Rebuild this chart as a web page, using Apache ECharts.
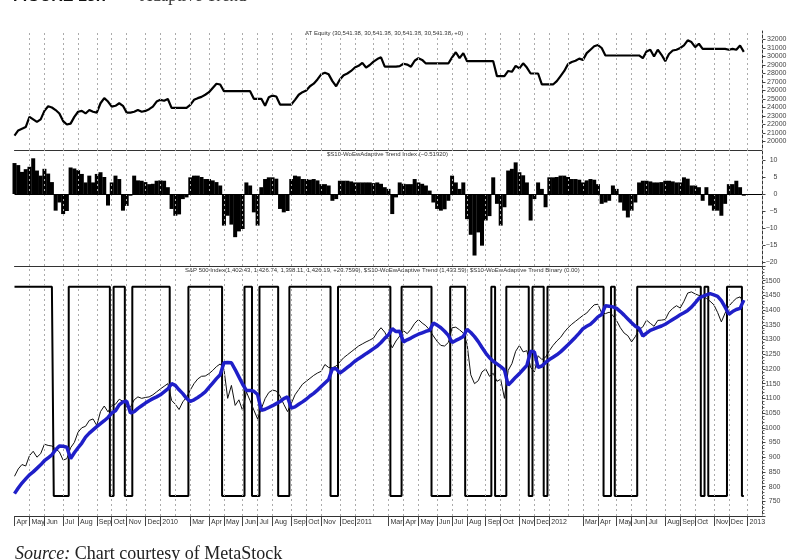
<!DOCTYPE html>
<html><head><meta charset="utf-8">
<script src="https://cdn.jsdelivr.net/npm/echarts@6/dist/echarts.min.js"></script>
<style>html,body{margin:0;padding:0;background:#fff}#chart{width:800px;height:560px}</style>
</head><body><div id="chart"></div>
<script>
// ---------- categories (weekly, Fridays) ----------
const monthAbbr = ['Jan','Feb','Mar','Apr','May','Jun','Jul','Aug','Sep','Oct','Nov','Dec'];
const firstWeek = Date.UTC(2009, 3, 3);
const weekCount = 201;
const DAY = 86400000;
const weeks = [];
for (let i = 0; i < weekCount; i++) weeks.push(new Date(firstWeek + i * 7 * DAY).toISOString().slice(0, 10));

// ---------- series values ----------
const equity = [
20700,21300,21500,21700,22900,22600,22300,22600,23600,24150,
24000,23700,23300,22400,22000,22100,22900,23500,23600,23300,
23700,23500,23400,24500,25100,24700,24100,24200,24500,24200,
23400,23400,23500,23700,23500,23600,23800,24100,24700,24900,
24800,25000,23950,23950,23950,23950,23950,24300,24900,25100,
25250,25500,25800,26300,26800,26700,25920,25920,25920,25920,
25920,25920,25920,25920,25020,25020,25020,24200,25200,25400,
25300,24350,24350,24350,24350,24900,25500,25800,26000,26500,
26800,27300,27900,28100,27900,27100,26500,27300,27800,28000,
28300,28700,28900,29250,28700,29000,29400,29700,29900,28800,
28800,28800,28800,28860,29150,29050,28800,29500,29800,29600,
29180,29180,29180,29180,29180,29180,29180,29900,30500,29800,
30400,29450,29450,29450,29450,29450,29450,29450,29450,27690,
27690,27690,28300,28200,28900,28600,29200,28700,28000,28000,
28000,26710,26710,26710,26710,27100,27700,28300,29100,29350,
29500,29750,29600,30400,30800,31200,31350,31000,30120,30120,
30120,30120,30120,30120,30120,30120,30120,30120,29800,30600,
30800,30000,30800,30200,29450,30300,30700,30800,31000,31300,
31900,31700,31100,31500,30900,30900,30900,30900,30900,30900,
30900,30800,30900,30800,31300,30541];

const trendIndex = [
9.1,8.5,6.5,7.3,8.0,10.5,6.9,5.4,7.4,6.0,
3.5,-4.9,-2.5,-5.9,-5.0,7.8,7.5,7.0,5.9,3.4,
5.4,3.4,5.9,6.4,5.0,-3.4,3.4,5.4,4.4,-4.9,
-3.5,-0.5,5.4,4.0,3.9,3.5,2.9,3.0,3.9,4.0,
3.9,2.0,-4.4,-6.4,-6.0,-1.5,-1.0,4.9,5.4,5.4,
5.0,4.4,4.4,4.0,3.5,2.5,-9.3,-6.4,-9.0,-12.7,
-11.0,-10.3,3.4,2.5,-5.4,-9.3,2.0,4.4,4.9,4.9,
4.5,-4.4,-5.4,-5.0,4.4,5.4,5.2,4.4,4.4,4.2,
4.4,4.0,2.9,2.9,2.5,-2.0,-1.5,3.9,3.9,3.9,
3.7,3.4,3.4,3.4,3.4,3.4,3.2,3.4,3.0,2.0,
1.5,-5.9,-1.0,3.4,3.0,2.9,2.9,4.4,3.4,3.0,
2.5,1.0,-2.5,-4.4,-4.9,-4.5,-2.0,5.4,3.4,1.5,
3.4,-7.4,-12.0,-18.1,-11.3,-15.2,-7.8,-6.5,4.9,-2.9,
-9.3,-3.9,6.9,7.4,9.3,6.4,5.5,3.4,-7.8,-1.5,
3.4,1.5,-3.9,4.9,4.9,5.0,5.4,5.4,5.0,4.4,
4.4,4.2,3.4,4.0,4.4,4.2,2.9,-2.9,-2.5,-2.0,
2.5,1.5,-2.5,-4.9,-6.9,-4.9,-2.5,3.4,3.9,3.9,
3.7,3.4,3.4,3.5,3.9,3.9,3.7,3.4,3.4,4.9,
4.5,2.5,2.5,2.0,-2.0,2.0,-3.4,-4.9,-4.9,-6.4,
-2.9,2.9,2.9,3.9,2.0,-0.5];

const sp500 = [
835,860,875,870,905,920,900,912,944,940,
938,928,918,890,895,932,950,985,1000,1005,
1025,1030,1008,1055,1074,1054,1076,1080,1097,1090,
1070,1070,1095,1105,1100,1103,1105,1112,1122,1132,
1141,1150,1093,1080,1062,1088,1104,1128,1150,1166,
1175,1176,1184,1195,1208,1217,1200,1100,1144,1076,
1095,1058,1122,1092,1060,1030,1065,1099,1120,1128,
1125,1108,1080,1055,1082,1112,1130,1148,1158,1168,
1178,1186,1192,1215,1205,1204,1210,1224,1238,1248,
1258,1268,1278,1285,1292,1298,1305,1325,1340,1325,
1300,1272,1295,1312,1330,1320,1335,1355,1368,1356,
1347,1332,1312,1294,1280,1278,1290,1340,1342,1333,
1322,1285,1180,1150,1160,1190,1200,1175,1185,1158,
1165,1100,1195,1218,1260,1280,1258,1262,1205,1190,
1245,1232,1240,1262,1280,1295,1307,1325,1340,1352,
1362,1372,1382,1390,1405,1418,1420,1390,1388,1393,
1382,1364,1340,1322,1313,1292,1310,1334,1343,1366,
1355,1345,1365,1366,1368,1393,1406,1415,1407,1430,
1458,1462,1455,1450,1447,1440,1430,1418,1392,1360,
1390,1413,1428,1440,1445,1426];

const adaptiveTrend = [
776,795,812,826,840,850,862,874,888,898,
908,925,938,937,934,895,915,932,948,968,
982,993,1004,1014,1024,1035,1050,1058,1078,1088,
1090,1050,1055,1066,1075,1084,1092,1099,1105,1112,
1122,1132,1150,1144,1129,1116,1100,1090,1095,1103,
1112,1122,1137,1152,1167,1180,1221,1222,1221,1198,
1173,1148,1127,1127,1124,1113,1059,1063,1069,1075,
1082,1089,1099,1105,1067,1071,1080,1088,1097,1108,
1117,1128,1140,1152,1164,1201,1201,1186,1195,1205,
1215,1226,1235,1243,1252,1260,1269,1278,1290,1304,
1316,1337,1327,1328,1292,1299,1305,1312,1318,1323,
1328,1331,1356,1349,1340,1328,1314,1290,1297,1303,
1310,1335,1324,1310,1293,1273,1254,1238,1226,1217,
1208,1197,1145,1158,1172,1184,1198,1212,1260,1258,
1205,1210,1222,1232,1240,1248,1258,1270,1282,1295,
1308,1322,1337,1345,1352,1364,1377,1385,1415,1413,
1411,1406,1395,1383,1370,1357,1345,1338,1312,1322,
1331,1336,1341,1346,1352,1360,1368,1376,1384,1391,
1399,1410,1425,1440,1447,1452,1456,1452,1447,1432,
1410,1386,1395,1402,1406,1434];

const trendBinary = [
1,1,1,1,1,1,1,1,1,1,1,
0,0,0,0,
1,1,1,1,1,1,1,1,1,1,1,
0,
1,1,1,
0,0,
1,1,1,1,1,1,1,1,1,1,
0,0,0,0,0,
1,1,1,1,1,1,1,1,1,
0,0,0,0,0,0,
1,1,
0,0,
1,1,1,1,1,
0,0,0,
1,1,1,1,1,1,1,1,1,1,1,
0,0,
1,1,1,1,1,1,1,1,1,1,1,1,1,1,
0,0,0,
1,1,1,1,1,1,1,1,
0,0,0,0,0,
1,1,1,1,
0,0,0,0,0,0,0,
1,
0,0,0,
1,1,1,1,1,1,
0,
1,1,1,
0,
1,1,1,1,1,1,1,1,1,1,1,1,1,1,1,
0,0,
1,
0,0,0,0,0,0,
1,1,1,1,1,1,1,1,1,1,1,1,1,1,1,1,1,
0,
1,
0,0,0,0,0,
1,1,1,1,
0];

// ---------- text ----------
const figureNo = 'FIGURE 13.7';
const figureTitle = 'Adaptive Trend';
const panel1Title = 'AT Equity (30,541.38, 30,541.38, 30,541.38, 30,541.38, +0)';
const panel2Title = '$S10-WoEwAdaptive Trend Index (\u22120.51920)';
const panel3Title = 'S&P 500 Index(1,402.43, 1,426.74, 1,398.11, 1,426.19, +23.7599), $S10-WoEwAdaptive Trend (1,433.59), $S10-WoEwAdaptive Trend Binary (0.00)';

// ---------- month markers: week nearest to the 1st of each month ----------
const monthMarks = {};
for (let y = 2009, m = 3; ; ) {
  const idx = Math.round((Date.UTC(y, m, 1) - firstWeek) / (7 * DAY));
  if (idx > weekCount - 1) break;
  if (idx >= 0) monthMarks[idx] = { y, m };
  m++; if (m === 12) { m = 0; y++; }
}
const labelled = (i) => !!monthMarks[i] && monthMarks[i].m !== 1;
const monthLabel = (v, i) => { const mk = monthMarks[i]; if (!mk) return ''; return mk.m === 0 ? String(mk.y) : monthAbbr[mk.m]; };
const plainFmt = (v) => String(v).replace('-', '\u2212');
const SANS = '"Liberation Sans", Arial, sans-serif';
const SERIF = '"Liberation Serif", "Times New Roman", serif';
const GL = 14.5, GR = 37.5;
const monthLines = Object.keys(monthMarks).map(Number).filter(i => i > 0).map(i => ({ xAxis: i }));
const gridLineStyle = { color: '#ababab', type: [2, 3], width: 1 };

function xAxisFor(gridIndex, showLabels) {
  return {
    type: 'category', gridIndex, data: weeks, boundaryGap: false,
    axisLine: { show: true, onZero: false, lineStyle: { color: '#333', width: 1 } },
    axisTick: showLabels ? { show: true, interval: (i) => labelled(i), length: 10, lineStyle: { color: '#444' } } : { show: false },
    axisLabel: showLabels ? { show: true, interval: (i) => labelled(i), formatter: monthLabel, align: 'left', margin: 3,
      padding: [0, 0, 0, 2], fontSize: 7, color: '#333', fontFamily: SANS } : { show: false },
    splitLine: { show: false }
  };
}
function yLabel(margin) {
  return { showMinLabel: false, showMaxLabel: false, align: 'right', margin, fontSize: 7, color: '#444', fontFamily: SANS, formatter: plainFmt };
}
function gridLines(axisIndex) {
  return { type: 'line', xAxisIndex: axisIndex, yAxisIndex: axisIndex, data: [], z: 1, silent: true,
    markLine: { silent: true, symbol: 'none', label: { show: false }, lineStyle: gridLineStyle, data: monthLines } };
}

const chart = echarts.init(document.getElementById('chart'), null, { renderer: 'canvas' });
chart.setOption({
  animation: false,
  backgroundColor: '#fff',
  grid: [
    { left: GL, right: GR, top: 31, height: 119 },
    { left: GL, right: GR, top: 150, height: 116 },
    { left: GL, right: GR, top: 266, height: 250 }
  ],
  xAxis: [xAxisFor(0, false), xAxisFor(1, false), xAxisFor(2, true)],
  yAxis: [
    { type: 'value', gridIndex: 0, position: 'right', min: 19000, max: 33000, interval: 1000,
      axisLine: { show: true, lineStyle: { color: '#333' } }, axisTick: { show: true, length: 3, lineStyle: { color: '#444' } },
      splitLine: { show: false }, axisLabel: yLabel(24) },
    { type: 'value', gridIndex: 1, position: 'right', min: -21.18, max: 12.94, splitNumber: 7,
      axisLine: { show: true, lineStyle: { color: '#333' } }, axisTick: { show: true, length: 3, lineStyle: { color: '#444' } },
      splitLine: { show: false }, axisLabel: yLabel(15) },
    { type: 'value', gridIndex: 2, position: 'right', min: 700, max: 1550, interval: 50,
      axisLine: { show: true, lineStyle: { color: '#333' } }, axisTick: { show: true, length: 3, lineStyle: { color: '#444' } },
      minorTick: { show: true, splitNumber: 5, length: 2, lineStyle: { color: '#666' } },
      splitLine: { show: false }, axisLabel: yLabel(18) },
    { type: 'value', gridIndex: 2, position: 'right', min: -0.0956, max: 1.0994, show: false, splitLine: { show: false } }
  ],
  graphic: [
    { type: 'text', left: 13, top: -11, style: { text: figureNo, font: 'bold 16px ' + SANS, fill: '#111' } },
    { type: 'text', left: 140, top: -12, style: { text: figureTitle, font: '17px ' + SERIF, fill: '#333' } },
    { type: 'text', left: 305, top: 30, style: { text: panel1Title, font: '6px ' + SANS, fill: '#333' } },
    { type: 'text', left: 327, top: 151, style: { text: panel2Title, font: '6px ' + SANS, fill: '#333' } },
    { type: 'text', left: 185, top: 267, style: { text: panel3Title, font: '6px ' + SANS, fill: '#333' } },
    { type: 'text', left: 15, top: 545, style: { text: '{i|Source:} Chart courtesy of MetaStock', font: '18px ' + SERIF, fill: '#222',
      rich: { i: { fontStyle: 'italic', fontSize: 18, fontFamily: SERIF, fill: '#222' } } } }
  ],
  series: [
    gridLines(0), gridLines(1), gridLines(2),
    { name: 'AT Equity', type: 'line', xAxisIndex: 0, yAxisIndex: 0, data: equity, showSymbol: false, z: 3,
      lineStyle: { color: '#000', width: 2.2 } },
    { name: 'Adaptive Trend Index', type: 'bar', xAxisIndex: 1, yAxisIndex: 1, data: trendIndex, barWidth: 4, z: 3,
      itemStyle: { color: '#000' },
      markLine: { silent: true, symbol: 'none', label: { show: false }, lineStyle: { color: '#000', width: 1, type: 'solid' }, data: [{ yAxis: 0 }] } },
    { name: 'Adaptive Trend Binary', type: 'line', xAxisIndex: 2, yAxisIndex: 3, data: trendBinary, step: 'middle', showSymbol: false, z: 3,
      lineStyle: { color: '#000', width: 2 } },
    { name: 'S&P 500 Index', type: 'line', xAxisIndex: 2, yAxisIndex: 2, data: sp500, showSymbol: false, z: 4,
      lineStyle: { color: '#111', width: 1 } },
    { name: 'Adaptive Trend', type: 'line', xAxisIndex: 2, yAxisIndex: 2, data: adaptiveTrend, showSymbol: false, z: 5,
      lineStyle: { color: '#1f1fc8', width: 3.5 } }
  ]
});
</script></body></html>
